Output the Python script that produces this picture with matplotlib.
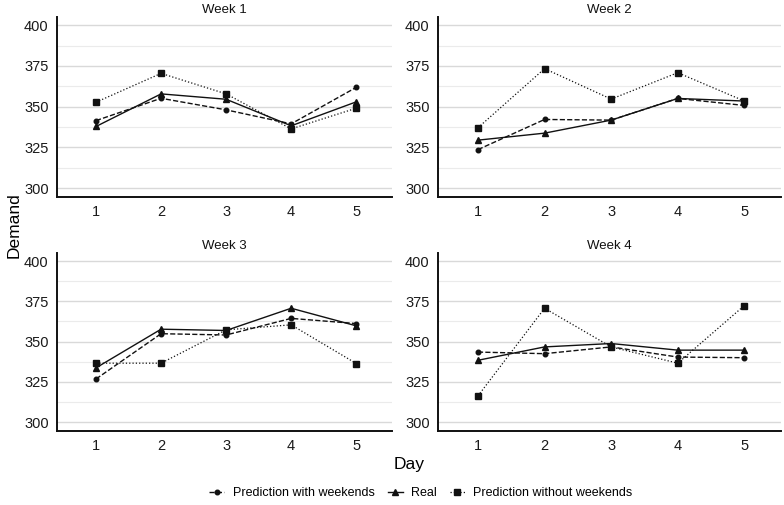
import matplotlib
matplotlib.use("Agg")
import matplotlib.pyplot as plt
from matplotlib.ticker import MultipleLocator

plt.rcParams["font.family"] = ["Liberation Sans", "DejaVu Sans"]

days = [1, 2, 3, 4, 5]
weeks = ["Week 1", "Week 2", "Week 3", "Week 4"]

# demand per week
with_weekends = [
    [341.4, 355.1, 348.0, 339.4, 361.8],
    [323.6, 342.1, 341.7, 355.0, 350.7],
    [326.8, 354.9, 354.1, 364.4, 361.2],
    [343.5, 342.5, 346.7, 340.4, 340.0],
]
real = [
    [337.8, 357.8, 354.5, 338.2, 352.9],
    [329.4, 333.7, 341.7, 355.0, 353.4],
    [333.7, 357.7, 356.9, 370.7, 359.8],
    [338.4, 346.7, 348.8, 344.7, 344.7],
]
without_weekends = [
    [352.7, 370.4, 357.8, 336.3, 349.0],
    [337.0, 373.3, 354.6, 370.8, 353.4],
    [336.6, 336.6, 357.3, 360.4, 336.4],
    [316.3, 370.7, 346.7, 336.6, 372.4],
]

SERIES = [
    ("Prediction with weekends", with_weekends, "--", "o", 3.3),
    ("Real", real, "-", "^", 4.0),
    ("Prediction without weekends", without_weekends, ":", "s", 3.8),
]
INK = "#111111"

W, H = 784, 505
fig = plt.figure(figsize=(W / 100, H / 100), dpi=100)

# panel boxes in pixels: left, right, top, bottom
boxes = [(57, 392, 17, 197), (438, 781, 17, 197),
         (57, 392, 253, 431), (438, 781, 253, 431)]

handles = None
for k, (l, r, t, b) in enumerate(boxes):
    ax = fig.add_axes([l / W, 1 - b / H, (r - l) / W, (b - t) / H])
    hs = []
    for name, vals, ls, mk, ms in SERIES:
        h, = ax.plot(days, vals[k], ls=ls, marker=mk, ms=ms, color=INK,
                     lw=1.0 if ls != ":" else 0.9, label=name)
        hs.append(h)
    handles = hs
    ax.set_xlim(0.4, 5.55)
    ax.set_ylim(294.5, 405)
    ax.set_xticks(days)
    ax.yaxis.set_major_locator(MultipleLocator(25))
    ax.yaxis.set_minor_locator(MultipleLocator(12.5))
    ax.grid(axis="y", which="major", color="#d9d9d9", lw=1.0)
    ax.grid(axis="y", which="minor", color="#ebebeb", lw=0.8)
    ax.set_axisbelow(True)
    for s in ("top", "right"):
        ax.spines[s].set_visible(False)
    for s in ("left", "bottom"):
        ax.spines[s].set_linewidth(1.4)
        ax.spines[s].set_color("#111111")
    ax.tick_params(which="both", length=0, labelsize=10.5,
                   labelcolor="#1a1a1a", pad=6)
    ax.set_title(weeks[k], fontsize=9.5, pad=3, color="#111111")

fig.text(14 / W, 1 - 225 / H, "Demand", rotation=90, ha="center",
         va="center", fontsize=12.5)
fig.text(409 / W, 1 - 465 / H, "Day", ha="center", va="center",
         fontsize=12.5)
fig.legend(handles, [s[0] for s in SERIES], loc="center",
           bbox_to_anchor=(421 / W, 1 - 493 / H), ncol=3, frameon=False,
           fontsize=9, handlelength=1.2, handletextpad=0.7,
           columnspacing=1.0)

fig.savefig("out.png", dpi=100)
